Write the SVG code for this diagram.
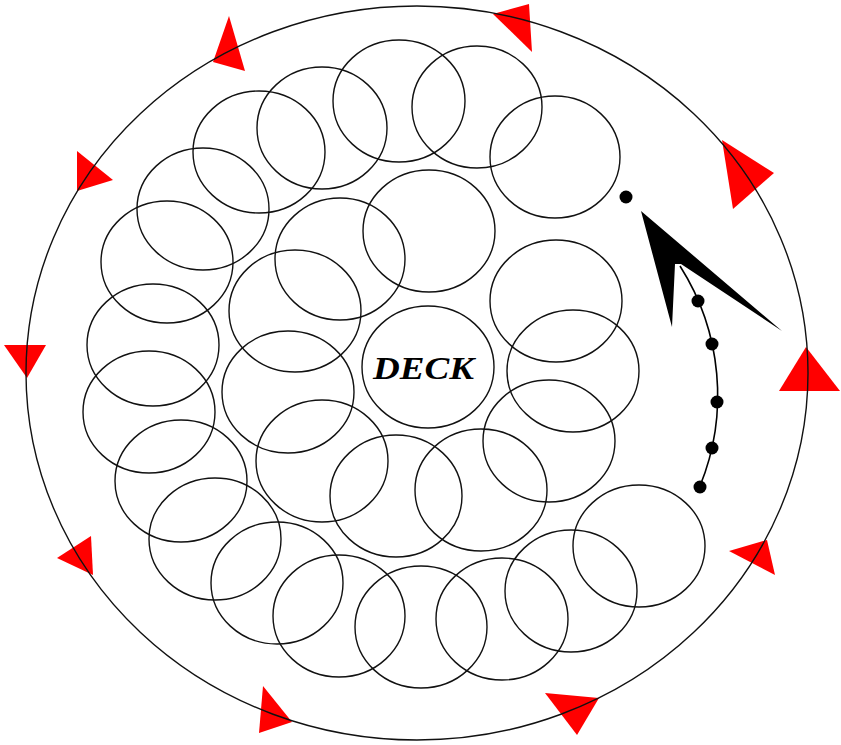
<svg xmlns="http://www.w3.org/2000/svg" width="841" height="745" viewBox="0 0 841 745">
<style>
.c{fill:none;stroke:#111;stroke-width:1.4}
.t{fill:#ff0000;stroke:none}
.d{fill:#000}
.lbl{font-family:"Liberation Serif","Times New Roman",serif;font-style:italic;font-weight:bold;font-size:32px;fill:#000}
</style>
<rect width="841" height="745" fill="#fff"/>
<g id="markers">
<polygon class="t" points="229,16 213,62 245,71"/>
<polygon class="t" points="493,14 529,4 532,52"/>
<polygon class="t" points="77,151 77,191 113,180"/>
<polygon class="t" points="4,345 46,345 27,378"/>
<polygon class="t" points="57,558 91,536 93,575"/>
<polygon class="t" points="263,686 259,733 292,722"/>
<polygon class="t" points="545,693 599,698 577,735"/>
<polygon class="t" points="729,551 767,540 775,575"/>
<polygon class="t" points="806,347 779,391 840,391"/>
<polygon class="t" points="722,140 774,173 733,209"/>
</g>
<g id="boundary"><ellipse class="c" cx="417" cy="373" rx="391" ry="367"/></g>
<g id="plants">
<g id="p1"><ellipse class="c" cx="399" cy="101" rx="66" ry="61"/></g>
<g id="p2"><ellipse class="c" cx="477" cy="107" rx="65" ry="61"/></g>
<g id="p3"><ellipse class="c" cx="555" cy="157" rx="65" ry="61"/></g>
<g id="p4"><ellipse class="c" cx="322" cy="128" rx="65" ry="61"/></g>
<g id="p5"><ellipse class="c" cx="259" cy="152" rx="66" ry="61"/></g>
<g id="p6"><ellipse class="c" cx="203" cy="209" rx="66" ry="61"/></g>
<g id="p7"><ellipse class="c" cx="167" cy="262" rx="66" ry="61"/></g>
<g id="p8"><ellipse class="c" cx="153" cy="345" rx="66" ry="61"/></g>
<g id="p9"><ellipse class="c" cx="149" cy="412" rx="66" ry="61"/></g>
<g id="p10"><ellipse class="c" cx="181" cy="481" rx="66" ry="61"/></g>
<g id="p11"><ellipse class="c" cx="215" cy="539" rx="66" ry="61"/></g>
<g id="p12"><ellipse class="c" cx="277" cy="583" rx="66" ry="61"/></g>
<g id="p13"><ellipse class="c" cx="339" cy="616" rx="66" ry="61"/></g>
<g id="p14"><ellipse class="c" cx="421" cy="627" rx="66" ry="61"/></g>
<g id="p15"><ellipse class="c" cx="502" cy="619" rx="66" ry="61"/></g>
<g id="p16"><ellipse class="c" cx="571" cy="591" rx="66" ry="61"/></g>
<g id="p17"><ellipse class="c" cx="639" cy="546" rx="66" ry="61"/></g>
<g id="p18"><ellipse class="c" cx="340" cy="259" rx="65" ry="61"/></g>
<g id="p19"><ellipse class="c" cx="429" cy="231" rx="66" ry="61"/></g>
<g id="p20"><ellipse class="c" cx="295" cy="311" rx="66" ry="61"/></g>
<g id="p21"><ellipse class="c" cx="288" cy="392" rx="66" ry="61"/></g>
<g id="p22"><ellipse class="c" cx="322" cy="461" rx="66" ry="61"/></g>
<g id="p23"><ellipse class="c" cx="396" cy="496" rx="66" ry="61"/></g>
<g id="p24"><ellipse class="c" cx="481" cy="490" rx="66" ry="61"/></g>
<g id="p25"><ellipse class="c" cx="549" cy="441" rx="66" ry="61"/></g>
<g id="p26"><ellipse class="c" cx="573" cy="371" rx="66" ry="61"/></g>
<g id="p27"><ellipse class="c" cx="556" cy="301" rx="66" ry="61"/></g>
</g>
<g id="deck">
<ellipse class="c" cx="428" cy="367" rx="66" ry="61"/>
<text class="lbl" x="373" y="379" textLength="101" lengthAdjust="spacingAndGlyphs">DECK</text>
</g>
<g id="connectors">
<path d="M680,266 A241,241 0 0 1 700,486" fill="none" stroke="#000" stroke-width="1.6"/>
<polygon points="641,211 782,331 681,264 675,264 672,327" fill="#000"/>
<circle class="d" cx="626" cy="197" r="6.5"/>
<circle class="d" cx="698" cy="301" r="6.5"/>
<circle class="d" cx="712" cy="344" r="6.5"/>
<circle class="d" cx="717" cy="402" r="6.5"/>
<circle class="d" cx="712" cy="448" r="6.5"/>
<circle class="d" cx="700" cy="487" r="6.5"/>
</g>
</svg>
